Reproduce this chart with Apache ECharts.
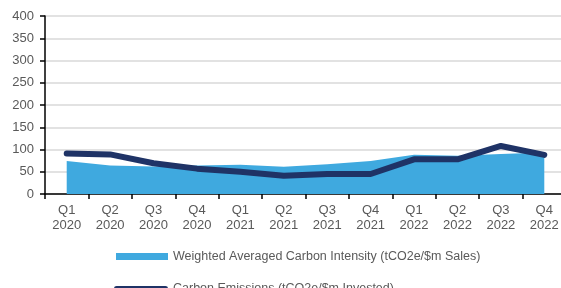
<!DOCTYPE html>
<html><head><meta charset="utf-8">
<script src="https://cdn.jsdelivr.net/npm/echarts@6/dist/echarts.min.js"></script>
<style>html,body{margin:0;padding:0;background:#fff;overflow:hidden}#c{width:567px;height:288px}</style>
</head><body><div id="c"></div>
<script>
const categories = ['Q1\n2020','Q2\n2020','Q3\n2020','Q4\n2020','Q1\n2021','Q2\n2021','Q3\n2021','Q4\n2021','Q1\n2022','Q2\n2022','Q3\n2022','Q4\n2022'];
const intensity = [74, 64, 62, 64, 66, 61, 67, 74, 88, 86, 90, 93];
const emissions = [91, 89, 69, 57, 50, 41, 45, 45, 78, 78, 108, 88];
const seriesNames = ['Weighted Averaged Carbon Intensity (tCO2e/$m Sales)', 'Carbon Emissions (tCO2e/$m Invested)'];
const yTicks = {min: 0, max: 400, interval: 50};

const font = 'Liberation Sans, Arial, sans-serif';
const legendText = {color: '#595959', fontSize: 12.5, fontFamily: font};
const pillIcon = 'path://M2.5,0 L51.5,0 A2.5,2.5 0 0 1 51.5,5 L2.5,5 A2.5,2.5 0 0 1 2.5,0 Z';
const chart = echarts.init(document.getElementById('c'), null, {renderer: 'canvas'});
chart.setOption({
  animation: false,
  textStyle: {fontFamily: font},
  grid: {left: 45, top: 16, right: 1, bottom: 94, containLabel: false},
  xAxis: {
    type: 'category', data: categories, boundaryGap: true,
    axisLine: {lineStyle: {color: '#000', width: 1.5}},
    axisTick: {show: true, length: 5, lineStyle: {color: '#000', width: 1.5}},
    axisLabel: {color: '#595959', fontSize: 13, lineHeight: 15, margin: 9, interval: 0, fontFamily: font},
    splitLine: {show: false}
  },
  yAxis: {
    type: 'value', min: yTicks.min, max: yTicks.max, interval: yTicks.interval,
    axisLine: {show: true, lineStyle: {color: '#000', width: 1.5}},
    axisTick: {show: true, length: 5, lineStyle: {color: '#000', width: 1.5}},
    axisLabel: {color: '#595959', fontSize: 13, margin: 11, fontFamily: font},
    splitLine: {lineStyle: {color: '#d9d9d9', width: 1.5}}
  },
  legend: [
    {
      left: 111, top: 245, itemWidth: 52, itemHeight: 7, itemGap: 5,
      textStyle: legendText,
      data: [{name: seriesNames[0], icon: 'rect', itemStyle: {color: '#3fa9df'}}]
    },
    {
      left: 109, top: 277, itemWidth: 54, itemHeight: 5, itemGap: 5,
      textStyle: legendText,
      data: [{name: seriesNames[1], icon: pillIcon,
              itemStyle: {color: '#1f3366'},
              lineStyle: {color: '#1f3366', width: 0, opacity: 0}}]
    }
  ],
  series: [
    {
      name: seriesNames[0], type: 'line', data: intensity,
      symbol: 'none', lineStyle: {width: 0, color: '#3fa9df'},
      itemStyle: {color: '#3fa9df'},
      areaStyle: {color: '#3fa9df', opacity: 1}
    },
    {
      name: seriesNames[1], type: 'line', data: emissions,
      symbol: 'none', itemStyle: {color: '#1f3366'},
      lineStyle: {width: 6, color: '#1f3366', cap: 'round', join: 'round'}
    }
  ]
});
</script></body></html>
